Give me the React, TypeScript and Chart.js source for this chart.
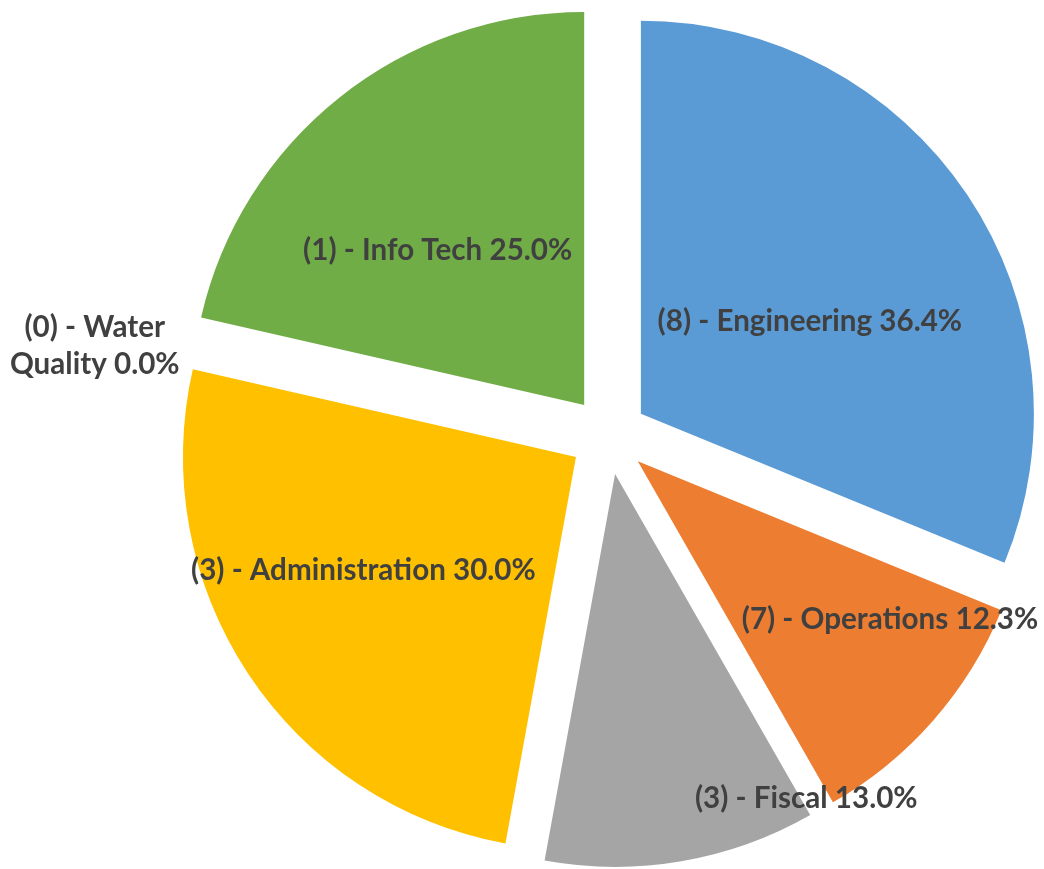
import React, { useEffect, useRef } from "react";
import { Chart, registerables } from "chart.js";

Chart.register(...registerables);

// ---- data ----
const categories = ["Engineering", "Operations", "Fiscal", "Administration", "Water Quality", "Info Tech"];
const counts = [8, 7, 3, 3, 0, 1];
const values = [36.4, 12.3, 13.0, 30.0, 0.0, 25.0];
const colors = ["#5B9BD5", "#ED7D31", "#A5A5A5", "#FFC000", "#4472C4", "#70AD47"];

// ---- label placement (radial fraction of radius, angular nudge in degrees, words on first line) ----
const labelPlacement = [
  { frac: 0.49, shift: 5.2, firstLineWords: 0 },
  { frac: 0.758, shift: -9.1, firstLineWords: 0 },
  { frac: 0.958, shift: -20.8, firstLineWords: 0 },
  { frac: 0.613, shift: 5.3, firstLineWords: 0 },
  { frac: 1.228, shift: -3.2, firstLineWords: 3 },
  { frac: 0.541, shift: -5.0, firstLineWords: 0 },
];

const EXPLODE = 39;
const RADIUS = 393;
const LABEL_FONT = "bold 29.6px Lato";
const LABEL_COLOR = "#404040";
const LINE_HEIGHT = 37;

const labelText = (i: number) => `(${counts[i]}) - ${categories[i]} ${values[i].toFixed(1)}%`;

const explodePlugin = {
  id: "explode",
  beforeDatasetDraw(chart: any, args: any) {
    const ctx = chart.ctx;
    args.meta.data.forEach((el: any) => {
      const mid = (el.startAngle + el.endAngle) / 2;
      ctx.save();
      ctx.translate(Math.cos(mid) * EXPLODE, Math.sin(mid) * EXPLODE);
      el.draw(ctx);
      ctx.restore();
    });
    return false;
  },
  afterDatasetsDraw(chart: any) {
    const ctx = chart.ctx;
    const meta = chart.getDatasetMeta(0);
    ctx.save();
    ctx.font = LABEL_FONT;
    ctx.fillStyle = LABEL_COLOR;
    ctx.textAlign = "center";
    ctx.textBaseline = "middle";
    meta.data.forEach((el: any, i: number) => {
      const mid = (el.startAngle + el.endAngle) / 2;
      const vx = el.x + Math.cos(mid) * EXPLODE;
      const vy = el.y + Math.sin(mid) * EXPLODE;
      const p = labelPlacement[i];
      const a = mid + (p.shift * Math.PI) / 180;
      const r = el.outerRadius * p.frac;
      const cx = vx + Math.cos(a) * r;
      const cy = vy + Math.sin(a) * r;
      const words = labelText(i).split(" ");
      const lines =
        p.firstLineWords > 0
          ? [words.slice(0, p.firstLineWords).join(" "), words.slice(p.firstLineWords).join(" ")]
          : [words.join(" ")];
      const top = cy - ((lines.length - 1) * LINE_HEIGHT) / 2;
      lines.forEach((ln, k) => ctx.fillText(ln, cx, top + k * LINE_HEIGHT));
    });
    ctx.restore();
  },
};

export default function App() {
  const ref = useRef<HTMLCanvasElement>(null);
  useEffect(() => {
    if (!ref.current) return;
    const chart = new Chart(ref.current, {
      type: "pie",
      data: {
        labels: categories,
        datasets: [
          {
            data: values,
            backgroundColor: colors,
            borderWidth: 0,
            radius: RADIUS,
          } as any,
        ],
      },
      options: {
        animation: false,
        responsive: false,
        layout: { padding: { left: 173, right: 0, top: 2, bottom: 0 } },
        plugins: {
          legend: { display: false },
          tooltip: { enabled: false },
        },
      },
      plugins: [explodePlugin as any],
    });
    return () => chart.destroy();
  }, []);
  return (
    <div style={{ position: "fixed", left: 0, top: 0, width: 1044, height: 869, background: "#ffffff" }}>
      <canvas ref={ref} width={1044} height={869} style={{ display: "block" }} />
    </div>
  );
}
